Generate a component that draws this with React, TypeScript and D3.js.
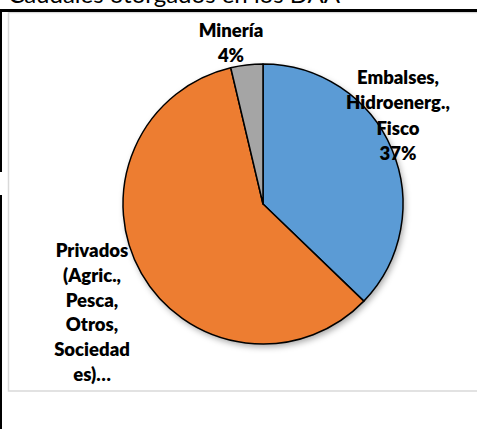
import React from "react";
import * as d3 from "d3";

const categories = ["Embalses, Hidroenerg., Fisco", "Privados (Agric., Pesca, Otros, Sociedades)", "Minería"];
const values = [37.2, 59.1, 3.7];
const percentLabels = ["37%", "59%", "4%"];
const labelLines = [
  ["Embalses,", "Hidroenerg.,", "Fisco", "37%"],
  ["Privados", "(Agric.,", "Pesca,", "Otros,", "Sociedad", "es)…"],
  ["Minería", "4%"],
];
const colors = ["#5B9BD5", "#ED7D31", "#A5A5A5"];
const titleText = "Caudales otorgados en los DAA";

const W = 477;
const H = 429;
const cx = 263;
const cy = 204;
const R = 140;
const labelPos = [
  { x: 398, y: 83.5, dy: 25.6 },
  { x: 92, y: 257, dy: 24.8 },
  { x: 231, y: 37, dy: 25 },
];

export default function App() {
  const pie = d3.pie<number>().sort(null).value((d) => d)(values);
  const arc = d3.arc<d3.PieArcDatum<number>>().innerRadius(0).outerRadius(R);
  const font = "Lato, 'Open Sans', sans-serif";
  return (
    <svg
      width={W}
      height={H}
      style={{ position: "fixed", left: 0, top: 0, background: "#fff" }}
      aria-label={categories.join(", ") + " " + percentLabels.join(", ")}
    >
      <defs>
        <filter id="sh" x="-20%" y="-20%" width="140%" height="140%">
          <feDropShadow dx="2" dy="3" stdDeviation="3" floodColor="#000" floodOpacity="0.35" />
        </filter>
      </defs>
      <rect x={0} y={0} width={W} height={H} fill="#fff" />
      <text x={340} y={3} textAnchor="end" fontFamily="Lato, sans-serif" fontSize={24} fill="#000">
        {titleText}
      </text>
      <rect x={8.5} y={12.5} width={520} height={378.5} fill="#fff" stroke="#d9d9d9" strokeWidth={1.5} />
      <rect x={0} y={9} width={W} height={3} fill="#000" />
      <rect x={0} y={9} width={2} height={163} fill="#000" />
      <rect x={0} y={195} width={2} height={234} fill="#000" />
      <g transform={`translate(${cx},${cy})`}>
        <g filter="url(#sh)">
          {pie.map((d, i) => (
            <path key={"s" + i} d={arc(d) || ""} fill={colors[i]} />
          ))}
        </g>
        {pie.map((d, i) => (
          <path key={"b" + i} d={arc(d) || ""} fill={colors[i]} stroke="#000" strokeWidth={1.5} strokeLinejoin="round" />
        ))}
      </g>
      {labelLines.map((lines, i) => (
        <text key={"l" + i} fontFamily={font} fontWeight={800} fontSize={18.5} fill="#000" textAnchor="middle">
          {lines.map((ln, j) => (
            <tspan key={j} x={labelPos[i].x} y={labelPos[i].y + j * labelPos[i].dy}>
              {ln}
            </tspan>
          ))}
        </text>
      ))}
    </svg>
  );
}
